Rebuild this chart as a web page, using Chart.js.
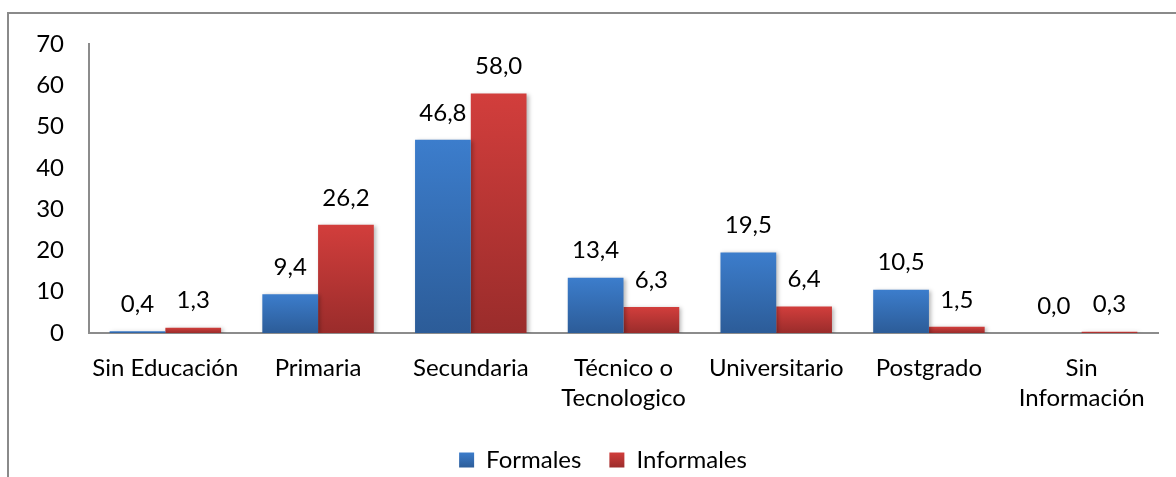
<!DOCTYPE html>
<html lang="es">
<head>
    <meta charset="UTF-8">
    <title>Formales vs Informales por nivel educativo</title>
    <script src="https://cdn.jsdelivr.net/npm/chart.js"></script>
    <style>
        html, body { margin: 0; padding: 0; background: #fff; }
        .chart-container { width: 1176px; height: 477px; }
    </style>
</head>
<body>
    <div class="chart-container">
        <canvas id="nivelChart"></canvas>
    </div>

    <script>
        // Data
        const categories = ['Sin Educación', 'Primaria', 'Secundaria', ['Técnico o', 'Tecnologico'], 'Universitario', 'Postgrado', ['Sin', 'Información']];
        const formales = [0.4, 9.4, 46.8, 13.4, 19.5, 10.5, 0.0];
        const informales = [1.3, 26.2, 58.0, 6.3, 6.4, 1.5, 0.3];
        const yTicks = [0, 10, 20, 30, 40, 50, 60, 70];

        const FONT = 'Lato, Calibri, "Open Sans", sans-serif';
        const BLUE = ['#3c7dcc', '#2c5c98'];
        const RED = ['#d23e3c', '#9a2c2b'];

        // vertical gradient per bar, lighter on top
        function barGradient(cols) {
            return function(ctx) {
                const chart = ctx.chart;
                const y = chart.scales && chart.scales.y;
                if (!y || !chart.chartArea || ctx.parsed === undefined) return cols[0];
                const top = y.getPixelForValue(ctx.parsed.y);
                const bottom = y.getPixelForValue(0);
                if (bottom - top < 1) return cols[1];
                const g = chart.ctx.createLinearGradient(0, top, 0, bottom);
                g.addColorStop(0, cols[0]);
                g.addColorStop(1, cols[1]);
                return g;
            };
        }

        // outer frame like the office chart border
        const framePlugin = {
            id: 'frame',
            afterLayout(chart) {
                // legend sits a bit right of the canvas centre in the original
                if (chart.legend) {
                    chart.legend.left += 24;
                    chart.legend.right += 24;
                }
            },
            beforeDraw(chart) {
                const c = chart.ctx;
                c.save();
                c.strokeStyle = '#8a8a8a';
                c.lineWidth = 2;
                c.beginPath();
                c.moveTo(8, 480);
                c.lineTo(8, 13);
                c.lineTo(1180, 13);
                c.stroke();
                c.restore();
            }
        };

        // small shadow on bars + value labels on top
        const labelPlugin = {
            id: 'valueLabels',
            beforeDatasetsDraw(chart) {
                const c = chart.ctx;
                c.save();
                c.shadowColor = 'rgba(0,0,0,0.28)';
                c.shadowBlur = 4;
                c.shadowOffsetX = 2;
                c.shadowOffsetY = 1;
            },
            afterDatasetsDraw(chart) {
                const c = chart.ctx;
                c.restore();
                c.save();
                c.font = '24px ' + FONT;
                c.fillStyle = '#000';
                c.textAlign = 'center';
                c.textBaseline = 'middle';
                chart.data.datasets.forEach((ds, i) => {
                    chart.getDatasetMeta(i).data.forEach((bar, j) => {
                        const txt = ds.data[j].toFixed(1).replace('.', ',');
                        c.fillText(txt, bar.x, bar.y - 27);
                    });
                });
                c.restore();
            }
        };

        const ctx = document.getElementById('nivelChart').getContext('2d');
        new Chart(ctx, {
            type: 'bar',
            data: {
                labels: categories,
                datasets: [{
                    label: 'Formales',
                    data: formales,
                    backgroundColor: barGradient(BLUE),
                    borderWidth: 0
                }, {
                    label: 'Informales',
                    data: informales,
                    backgroundColor: barGradient(RED),
                    borderWidth: 0
                }]
            },
            options: {
                responsive: true,
                maintainAspectRatio: false,
                animation: false,
                layout: {
                    padding: { top: 44, left: 0, right: 18, bottom: 0 }
                },
                datasets: {
                    bar: { categoryPercentage: 0.73, barPercentage: 1.0 }
                },
                plugins: {
                    legend: {
                        position: 'bottom',
                        maxHeight: 57,
                        labels: {
                            color: '#000',
                            font: { family: FONT, size: 24 },
                            boxWidth: 15,
                            boxHeight: 15,
                            padding: 28,
                            generateLabels(chart) {
                                const c = chart.ctx;
                                return chart.data.datasets.map((ds, i) => {
                                    const cols = i === 0 ? BLUE : RED;
                                    const g = c.createLinearGradient(0, 452, 0, 468);
                                    g.addColorStop(0, cols[0]);
                                    g.addColorStop(1, cols[1]);
                                    return {
                                        text: ds.label,
                                        fillStyle: g,
                                        strokeStyle: cols[1],
                                        lineWidth: 0,
                                        datasetIndex: i
                                    };
                                });
                            }
                        }
                    },
                    tooltip: { enabled: false }
                },
                scales: {
                    x: {
                        grid: { display: false, drawTicks: false },
                        border: { display: true, color: '#8c8c8c', width: 2 },
                        ticks: {
                            color: '#000',
                            font: { family: FONT, size: 24, lineHeight: 1.25 },
                            padding: 20,
                            maxRotation: 0,
                            autoSkip: false
                        },
                        afterFit(scale) { scale.height = 87; }
                    },
                    y: {
                        min: 0,
                        max: 70,
                        afterBuildTicks(scale) {
                            scale.ticks = yTicks.map(v => ({ value: v }));
                        },
                        grid: { display: false, drawTicks: false },
                        border: { display: true, color: '#8c8c8c', width: 2 },
                        ticks: {
                            color: '#000',
                            font: { family: FONT, size: 24 },
                            padding: 25
                        },
                        afterFit(scale) { scale.width = 89; }
                    }
                }
            },
            plugins: [framePlugin, labelPlugin]
        });
    </script>
</body>
</html>
